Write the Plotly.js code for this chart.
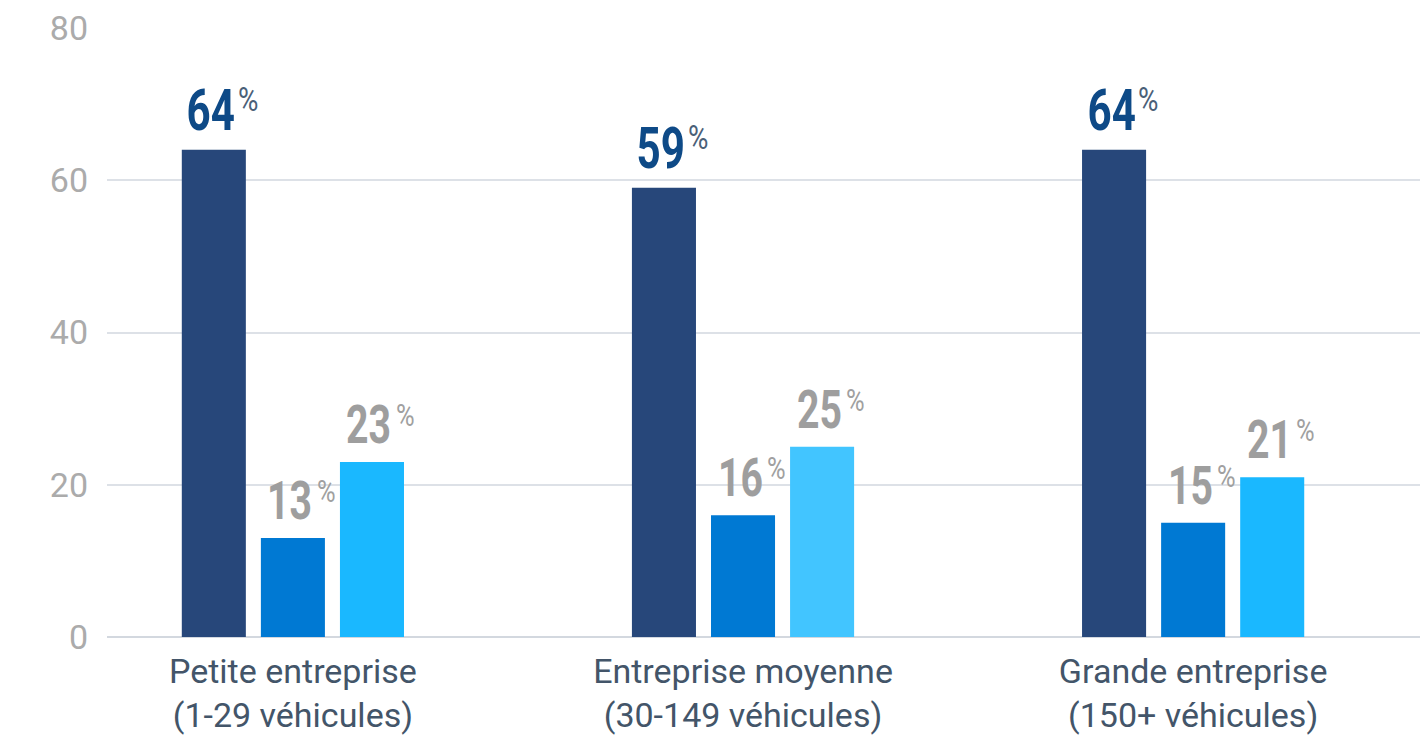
<!DOCTYPE html>
<html>
<head>
<meta charset="utf-8">
<script src="https://cdn.plot.ly/plotly-3.0.1.min.js"></script>
<style>
html,body{margin:0;padding:0;background:#fff;}
#chart{width:1428px;height:737px;}
</style>
</head>
<body>
<div id="chart"></div>
<script>
const categories = ['Petite entreprise<br>(1-29 véhicules)', 'Entreprise moyenne<br>(30-149 véhicules)', 'Grande entreprise<br>(150+ véhicules)'];
const seriesNames = ['Série 1', 'Série 2', 'Série 3'];
const series1 = [64, 59, 64];
const series2 = [13, 16, 15];
const series3 = [23, 25, 21];
const yTicks = [0, 20, 40, 60, 80];

const barColors = [
  ['#27477A', '#27477A', '#27477A'],
  ['#0079D3', '#0079D3', '#0079D3'],
  ['#1AB8FF', '#42C5FF', '#1AB8FF']
];
const bargap = 0.473, bargroupgap = 0.19;
const allSeries = [series1, series2, series3];

const traces = allSeries.map((vals, t) => ({
  type: 'bar', x: categories, y: vals, name: seriesNames[t],
  marker: {color: barColors[t]}, showlegend: false, hoverinfo: 'skip'
}));

const numFont = "Roboto, 'Liberation Sans', sans-serif";
const slot = (1 - bargap) / 3;
const annotations = [];
allSeries.forEach((vals, t) => {
  vals.forEach((v, i) => {
    const xc = i + (t - 1) * slot;
    const blue = t === 0;
    annotations.push({
      x: xc, y: v, xref: 'x', yref: 'y', text: String(v), showarrow: false,
      xanchor: 'center', yanchor: 'bottom', yshift: 4, xshift: -3,
      font: {family: numFont, size: blue ? 57 : 53, color: blue ? '#0E4A87' : '#9E9E9E', weight: 700}
    });
    annotations.push({
      x: xc, y: v, xref: 'x', yref: 'y', text: '%', showarrow: false,
      xanchor: 'left', yanchor: 'bottom', xshift: 22, yshift: blue ? 29 : 26,
      font: {family: numFont, size: blue ? 34 : 31, color: blue ? '#4A6078' : '#A0A0A0'}
    });
  });
});

const layout = {
  width: 1428, height: 737,
  margin: {l: 107, r: 8, t: 28, b: 100},
  paper_bgcolor: '#ffffff', plot_bgcolor: '#ffffff',
  barmode: 'group', bargap: bargap, bargroupgap: bargroupgap,
  xaxis: {
    type: 'category', range: [-0.413, 2.504], showgrid: false, showline: false, zeroline: false,
    tickfont: {family: 'Roboto, sans-serif', size: 34, color: '#435569'}, ticks: '', ticklabelstandoff: 11
  },
  yaxis: {
    range: [0, 80], tickvals: yTicks, ticktext: yTicks.map(String),
    showgrid: true, gridcolor: '#DDE1E7', gridwidth: 2, zeroline: true, zerolinecolor: '#D3D8DF', zerolinewidth: 2,
    showline: false, ticks: '', ticklabelstandoff: 18,
    tickfont: {family: 'Roboto, sans-serif', size: 34, color: '#ABABAB'}
  },
  annotations: annotations
};

function condense(gd) {
  const groups = gd.querySelectorAll('.annotation');
  groups.forEach((g, k) => {
    const txt = g.querySelector('text.annotation-text');
    if (!txt) return;
    const isNum = (k % 2) === 0;
    txt.style.transformBox = 'fill-box';
    txt.style.transformOrigin = isNum ? 'center' : 'left center';
    txt.style.transform = isNum ? 'scaleX(0.74)' : 'scaleX(0.82)';
  });
}
Plotly.newPlot('chart', traces, layout, {displayModeBar: false, staticPlot: true}).then(condense);
</script>
</body>
</html>
